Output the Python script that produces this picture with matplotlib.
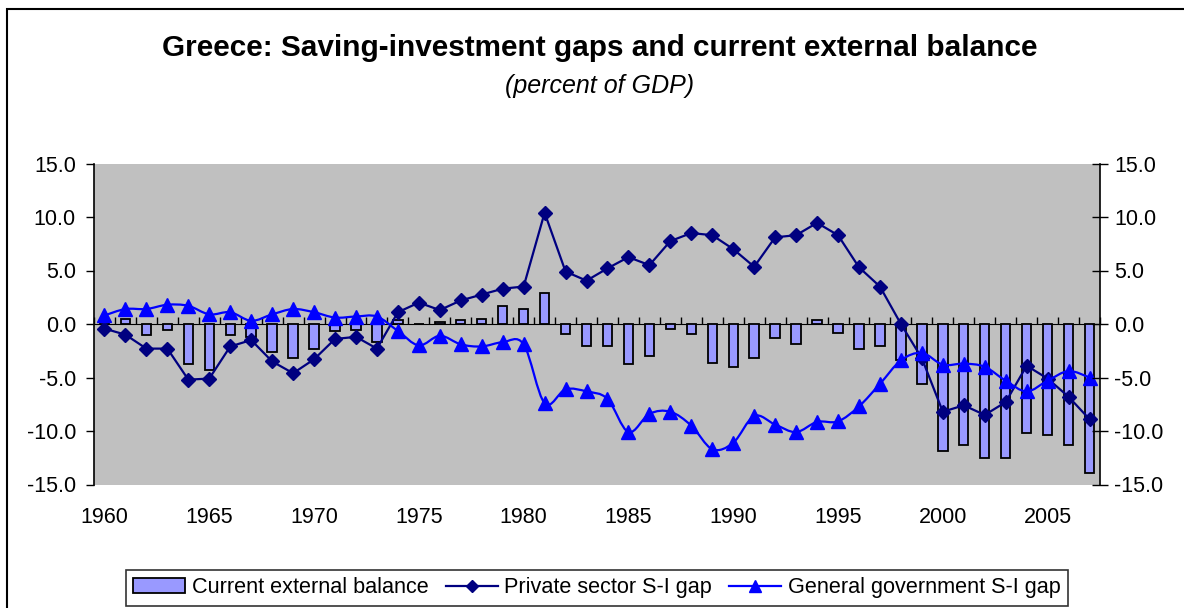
import matplotlib
matplotlib.use("Agg")
import matplotlib.pyplot as plt
import numpy as np
from matplotlib.path import Path
from matplotlib.patches import PathPatch, Rectangle
from matplotlib.lines import Line2D

plt.rcParams['font.family'] = ['Liberation Sans', 'DejaVu Sans']

years = list(range(1960, 2008))

# current external balance (bars)
current_balance = [0.2, 0.5, -1.0, -0.6, -3.7, -4.3, -1.0, -1.2, -2.6, -3.2,
                   -2.3, -0.7, -0.6, -1.7, 0.35, 0.0, 0.15, 0.37, 0.5, 1.65,
                   1.4, 2.9, -0.95, -2.1, -2.1, -3.75, -3.0, -0.43, -0.95, -3.6,
                   -4.0, -3.2, -1.35, -1.9, 0.37, -0.8, -2.3, -2.1, -3.4, -5.6,
                   -11.9, -11.3, -12.5, -12.5, -10.2, -10.4, -11.3, -13.9]

# private sector S-I gap
private_gap = [-0.43, -1.0, -2.3, -2.3, -5.2, -5.1, -2.1, -1.5, -3.5, -4.6,
               -3.3, -1.4, -1.2, -2.3, 1.1, 2.0, 1.3, 2.2, 2.75, 3.3,
               3.5, 10.4, 4.9, 4.05, 5.2, 6.25, 5.5, 7.75, 8.5, 8.3,
               7.0, 5.35, 8.1, 8.3, 9.45, 8.3, 5.3, 3.5, 0.0, -3.2,
               -8.2, -7.6, -8.5, -7.3, -3.9, -5.1, -6.8, -8.9]

# general government S-I gap
govt_gap = [0.8, 1.4, 1.4, 1.8, 1.7, 0.9, 1.1, 0.3, 0.9, 1.4,
            1.1, 0.6, 0.7, 0.7, -0.65, -2.0, -1.1, -1.9, -2.1, -1.7,
            -1.9, -7.4, -6.1, -6.3, -7.0, -10.1, -8.4, -8.2, -9.5, -11.7,
            -11.1, -8.6, -9.4, -10.1, -9.15, -9.1, -7.7, -5.6, -3.4, -2.7,
            -3.8, -3.7, -4.0, -5.3, -6.3, -5.3, -4.4, -5.0]

yticks = [15, 10, 5, 0, -5, -10, -15]
xlabel_years = [1960, 1965, 1970, 1975, 1980, 1985, 1990, 1995, 2000, 2005]


def smooth_path(xs, ys):
    # excel style smoothed line: bezier through every point
    pts = np.column_stack([xs, ys])
    n = len(pts)
    verts = [pts[0]]
    codes = [Path.MOVETO]
    for i in range(n - 1):
        p0 = pts[max(i - 1, 0)]
        p1 = pts[i]
        p2 = pts[i + 1]
        p3 = pts[min(i + 2, n - 1)]
        c1 = p1 + (p2 - p0) / 6.0
        c2 = p2 - (p3 - p1) / 6.0
        verts += [c1, c2, p2]
        codes += [Path.CURVE4, Path.CURVE4, Path.CURVE4]
    return Path(verts, codes)


def main():
    fig = plt.figure(figsize=(11.84, 6.08), dpi=100)
    W, H = 1184.0, 608.0
    ax = fig.add_axes([94 / W, 1 - 484.5 / H, 1006 / W, 321 / H])
    ax.set_facecolor('#C0C0C0')

    x = np.arange(len(years))
    ax.bar(x, current_balance, width=0.45, color='#9999FF', edgecolor='black',
           linewidth=1.3, zorder=2)
    ax.plot(x, private_gap, color='#000080', lw=1.6, marker='D', ms=7,
            zorder=3)
    ax.add_patch(PathPatch(smooth_path(x, govt_gap), facecolor='none',
                           edgecolor='#0000FF', lw=1.6, zorder=4))
    ax.plot(x, govt_gap, ls='none', color='#0000FF', marker='^', ms=10,
            zorder=5)

    ax.set_xlim(-0.5, len(years) - 0.5)
    ax.set_ylim(-15, 15)
    ax.set_yticks(yticks)
    ax.set_yticklabels(['%.1f' % v for v in yticks])
    ax.tick_params(axis='y', direction='out', length=6, width=1, labelsize=15.5,
                   pad=7)

    ax.set_xticks([years.index(y) for y in xlabel_years])
    ax.set_xticklabels([str(y) for y in xlabel_years])
    ax.tick_params(axis='x', length=0, labelsize=15.5, pad=16)

    for s in ['top', 'bottom', 'right']:
        ax.spines[s].set_visible(False)
    ax.spines['left'].set_linewidth(1.2)

    # category axis crossing at zero
    zax = ax.secondary_xaxis(0.5)
    zax.set_xticks(np.arange(len(years) + 1) - 0.5)
    zax.set_xticklabels([])
    zax.tick_params(axis='x', direction='out', length=5, width=1)
    zax.spines['bottom'].set_linewidth(1.2)

    # right hand axis
    ax2 = ax.twinx()
    ax2.set_ylim(-15, 15)
    ax2.set_yticks(yticks)
    ax2.set_yticklabels(['%.1f' % v for v in yticks])
    ax2.tick_params(axis='y', direction='inout', length=12, width=1,
                    labelsize=15.5, pad=4)
    for s in ['top', 'bottom', 'left']:
        ax2.spines[s].set_visible(False)
    ax2.spines['right'].set_linewidth(1.2)

    fig.text(600 / W, 1 - 48 / H, 'Greece: Saving-investment gaps and current external balance',
             ha='center', va='center', fontsize=21.4, fontweight='bold')
    fig.text(600 / W, 1 - 86 / H, '(percent of GDP)', ha='center', va='center',
             fontsize=18, style='italic')

    handles = [Rectangle((0, 0), 1, 1, facecolor='#9999FF', edgecolor='black', lw=1.3),
               Line2D([], [], color='#000080', lw=1.6, marker='D', ms=6),
               Line2D([], [], color='#0000FF', lw=1.6, marker='^', ms=8)]
    labels = ['Current external balance', 'Private sector S-I gap',
              'General government S-I gap']
    leg = fig.legend(handles, labels, loc='upper center', ncol=3,
                     bbox_to_anchor=(597 / W, 1 - 559 / H), fontsize=15.6,
                     frameon=True, fancybox=False, edgecolor='black',
                     handlelength=2.4, columnspacing=0.8, handletextpad=0.3,
                     borderpad=0.35)
    leg.get_frame().set_linewidth(1.2)

    fig.add_artist(Rectangle((7 / W, -0.1), 1.2, 1.1 - 9 / H, transform=fig.transFigure,
                             facecolor='none', edgecolor='black', lw=1.5))

    plt.savefig('out.png', dpi=100)


if __name__ == '__main__':
    main()
